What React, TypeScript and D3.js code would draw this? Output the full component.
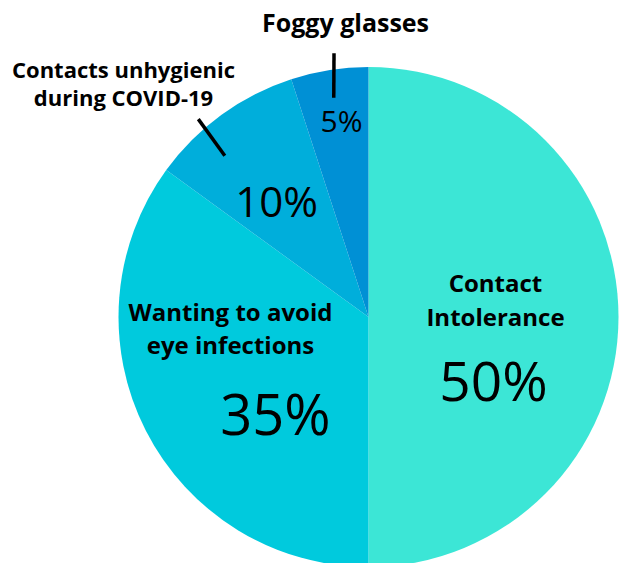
import { useEffect, useRef } from 'react';
import * as d3 from "d3";

const categories = ["Contact Intolerance", "Wanting to avoid eye infections", "Contacts unhygienic during COVID-19", "Foggy glasses"];
const values = [50, 35, 10, 5];
const colors = ["#3ce6d6", "#00cadd", "#00aedb", "#0090d5"];

// label lines per slice (bold title)
const titleLines = [["Contact", "Intolerance"], ["Wanting to avoid", "eye infections"], ["Contacts unhygienic", "during COVID-19"], ["Foggy glasses"]];

export default function App() {
  const chartRef = useRef<SVGSVGElement>(null);

  useEffect(() => {
    if (!chartRef.current) return;
    d3.select(chartRef.current).selectAll("*").remove();

    const width = 621;
    const height = 563;
    const cx = 368.5;
    const cy = 317;
    const radius = 250;

    const svg = d3.select(chartRef.current)
      .attr("viewBox", [0, 0, width, height])
      .attr("width", width)
      .attr("height", height)
      .style("font-family", "'Open Sans', sans-serif");

    const data = categories.map((c, i) => ({ name: c, value: values[i], color: colors[i], lines: titleLines[i] }));

    const pie = d3.pie<typeof data[0]>().sort(null).value(d => d.value);
    const arc = d3.arc<d3.PieArcDatum<typeof data[0]>>().innerRadius(0).outerRadius(radius);
    const arcs = pie(data);

    const g = svg.append("g").attr("transform", `translate(${cx},${cy})`);

    g.selectAll("path")
      .data(arcs)
      .join("path")
      .attr("d", arc)
      .attr("fill", d => d.data.color);

    // label layout (relative to pie centre)
    const layout = [
      { tx: 127, ty: -25, lh: 34, fs: 24, px: 125, py: 84, ps: 55 },
      { tx: -138, ty: 4, lh: 33, fs: 24, px: -93, py: 118, ps: 56 },
      { tx: -245, ty: -239, lh: 28, fs: 22, px: -92, py: -100, ps: 42 },
      { tx: -23, ty: -285, lh: 0, fs: 25, px: -27, py: -185, ps: 30 },
    ];

    arcs.forEach((a, i) => {
      const l = layout[i];
      const t = g.append("text")
        .attr("text-anchor", "middle")
        .attr("font-weight", 700)
        .attr("font-size", l.fs)
        .attr("fill", "#000");
      a.data.lines.forEach((line, j) => {
        t.append("tspan").attr("x", l.tx).attr("y", l.ty + j * l.lh).text(line);
      });
      g.append("text")
        .attr("text-anchor", "middle")
        .attr("font-size", l.ps)
        .attr("fill", "#000")
        .attr("x", l.px)
        .attr("y", l.py)
        .text(`${a.data.value}%`);
    });

    // leader lines (angle in degrees, radii)
    const leaders = [
      { slice: 2, a0: -41.7, r0: 216, a1: -40.7, r1: 261 },
      { slice: 3, a0: -9.0, r0: 222, a1: -7.45, r1: 266 },
    ];
    g.selectAll("line.leader")
      .data(leaders)
      .join("line")
      .attr("class", "leader")
      .each(function (d) {
        const p0 = d3.pointRadial(d.a0 * Math.PI / 180, d.r0);
        const p1 = d3.pointRadial(d.a1 * Math.PI / 180, d.r1);
        d3.select(this).attr("x1", p0[0]).attr("y1", p0[1]).attr("x2", p1[0]).attr("y2", p1[1]);
      })
      .attr("stroke", "#000")
      .attr("stroke-width", 3.5);
  }, []);

  return (
    <div style={{ position: "absolute", left: 0, top: 0 }}>
      <svg ref={chartRef} style={{ display: "block" }}></svg>
    </div>
  );
}
